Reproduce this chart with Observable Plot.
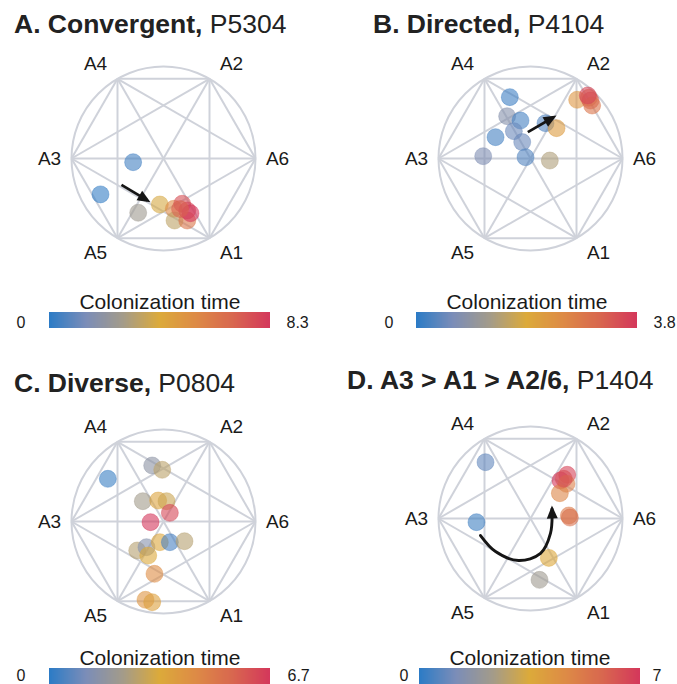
<!DOCTYPE html>
<html><head><meta charset="utf-8">
<script src="https://cdn.jsdelivr.net/npm/d3@7"></script>
<script src="https://cdn.jsdelivr.net/npm/@observablehq/plot@0.6"></script>
<style>
body{margin:0;background:#fff;overflow:hidden}
#root{position:relative;width:677px;height:684px;overflow:hidden;font-family:"Liberation Sans",Arial,Helvetica,sans-serif;color:#222}
.title{position:absolute;font-size:26.5px;line-height:26px;white-space:nowrap;color:#222}
.title b{font-weight:700}
.abs{position:absolute}
</style></head><body><div id="root"></div>
<script>
// ---- data ----
const vertexLabels = ["A6","A2","A4","A3","A5","A1"];
const vertexAngles = [0,60,120,180,240,300];
const titlesBold = ["A. Convergent,", "B. Directed,", "C. Diverse,", "D. A3 > A1 > A2/6,"];
const titlesPlain = ["P5304","P4104","P0804","P1404"];
const colorMax = [8.3, 3.8, 6.7, 7];
const colorLabel = "Colonization time";
const colorStops = ["#2b7bc6", "#7b8db8", "#a39b8a", "#dcaa3a", "#dd8a46", "#d8664f", "#d4375b"];

const ptsA_x = [-0.33, -0.685, -0.275, -0.04, 0.112, 0.12, 0.258, 0.203, 0.258, 0.293, 0.18];
const ptsA_y = [-0.04, -0.39, -0.59, -0.5, -0.547, -0.674, -0.674, -0.492, -0.565, -0.595, -0.55];
const ptsA_t = [0.4, 0.15, 2.6, 4.0, 5.5, 3.4, 6.3, 7.6, 7.9, 8.3, 7.0];

const ptsB_x = [-0.225, -0.254, -0.109, -0.181, -0.38, -0.09, -0.514, -0.054, 0.163, 0.283, 0.21, 0.507, 0.634, 0.652, 0.67, 0.623];
const ptsB_y = [0.667, 0.46, 0.413, 0.297, 0.232, 0.178, 0.025, 0.014, 0.384, 0.33, -0.022, 0.638, 0.66, 0.63, 0.576, 0.685];
const ptsB_t = [0.15, 0.8, 0.2, 0.5, 0.2, 0.5, 0.7, 0.3, 0.3, 2.2, 1.4, 2.3, 3.0, 3.3, 2.9, 3.6];

const ptsC_x = [-0.605, -0.123, -0.014, -0.225, -0.058, 0.033, 0.069, -0.141, -0.286, -0.185, -0.166, -0.04, 0.069, 0.228, -0.098, -0.196, -0.123];
const ptsC_y = [0.464, 0.609, 0.562, 0.221, 0.228, 0.221, 0.094, -0.007, -0.315, -0.279, -0.37, -0.225, -0.225, -0.214, -0.569, -0.851, -0.877];
const ptsC_t = [0.2, 1.6, 2.7, 2.2, 3.6, 3.0, 6.3, 6.7, 2.6, 1.4, 3.4, 3.5, 0.4, 2.6, 4.4, 4.1, 3.7];

const ptsD_x = [-0.489, -0.587, 0.399, 0.326, 0.391, 0.319, 0.362, 0.417, 0.428, 0.199, 0.098];
const ptsD_y = [0.612, -0.04, 0.475, 0.413, 0.377, 0.275, 0.431, 0.033, 0.01, -0.428, -0.667];
const ptsD_t = [0.8, 0.3, 6.7, 7.0, 5.0, 4.8, 6.4, 5.2, 5.5, 3.6, 2.2];

// annotation arrows (normalized circle coordinates)
const arrowA_x = [-0.457, -0.174], arrowA_y = [-0.286, -0.455];
const arrowB_x = [-0.029, 0.25],  arrowB_y = [0.286, 0.448];
const curveD_x = [-0.543, -0.380, -0.130, 0.109, 0.217, 0.234];
const curveD_y = [-0.185, -0.359, -0.457, -0.380, -0.163, 0.103];

const PX = [ptsA_x, ptsB_x, ptsC_x, ptsD_x];
const PY = [ptsA_y, ptsB_y, ptsC_y, ptsD_y];
const PT = [ptsA_t, ptsB_t, ptsC_t, ptsD_t];

// ---- layout ----
const R = 92;
const layout = [
  {cx:163, cy:158, left:0,   tx:14,  ty:11,  barL:49,  barR:270, barTop:312, gap0:24, gapMax:16, tdy:2},
  {cx:530, cy:158, left:339, tx:373, ty:11,  barL:416, barR:637, barTop:312, gap0:23, gapMax:16, tdy:2},
  {cx:163, cy:521, left:0,   tx:14,  ty:370, barL:49,  barR:270, barTop:668, gap0:24, gapMax:17, tdy:-1},
  {cx:530, cy:518, left:339, tx:347, ty:367, barL:419, barR:640, barTop:668, gap0:11, gapMax:12, tdy:-1},
];
const FONT = '"Liberation Sans", Arial, Helvetica, sans-serif';
const gridColor = "#cfd2da";
const ramp = d3.piecewise(d3.interpolateRgb, colorStops);
const root = document.getElementById("root");

function headMarker(color, context) {
  const doc = (context && context.document) || document;
  const ns = "http://www.w3.org/2000/svg";
  const m = doc.createElementNS(ns, "marker");
  m.setAttribute("viewBox", "-10 -6 14 12");
  m.setAttribute("markerWidth", 14);
  m.setAttribute("markerHeight", 12);
  m.setAttribute("refX", 0);
  m.setAttribute("refY", 0);
  m.setAttribute("orient", "auto");
  m.setAttribute("markerUnits", "userSpaceOnUse");
  const p = doc.createElementNS(ns, "path");
  p.setAttribute("d", "M-9.5,-5.5L3.5,0L-9.5,5.5Z");
  p.setAttribute("fill", color);
  p.setAttribute("stroke", "none");
  m.appendChild(p);
  return m;
}

const verts = vertexLabels.map((name, k) => {
  const a = vertexAngles[k] * Math.PI / 180;
  const c = Math.round(Math.cos(a) * 1e6) / 1e6, s = Math.round(Math.sin(a) * 1e6) / 1e6;
  return {name, x: c, y: s, lx: c + Math.sign(c) * 22 / R, ly: s + Math.sign(s) * 14.5 / R};
});
const edges = [];
for (let a = 0; a < verts.length; a++) for (let b = a + 1; b < verts.length; b++)
  edges.push({x1: verts[a].x, y1: verts[a].y, x2: verts[b].x, y2: verts[b].y});

function arrowMarks(i, marker) {
  const st = {stroke: "#151515", strokeWidth: 2.7, markerEnd: marker};
  if (i === 0) return [Plot.link([0], {x1: () => arrowA_x[0], y1: () => arrowA_y[0], x2: () => arrowA_x[1], y2: () => arrowA_y[1], ...st})];
  if (i === 1) return [Plot.link([0], {x1: () => arrowB_x[0], y1: () => arrowB_y[0], x2: () => arrowB_x[1], y2: () => arrowB_y[1], ...st})];
  if (i === 3) {
    const pts = curveD_x.map((x, j) => ({x, y: curveD_y[j]}));
    return [Plot.line(pts, {x: "x", y: "y", curve: "catmull-rom", ...st, strokeWidth: 2.9})];
  }
  return [];
}

function mainPlot(i, marker) {
  const W = 338, H = 300, hx = 169, hy = 150;
  const pts = PX[i].map((x, j) => ({x, y: PY[i][j], t: PT[i][j]}));
  return Plot.plot({
    width: W, height: H, margin: 0,
    style: {background: "transparent", overflow: "visible", fontFamily: FONT},
    x: {domain: [-1, 1], range: [hx - R, hx + R], axis: null},
    y: {domain: [-1, 1], range: [hy + R, hy - R], axis: null},
    color: {type: "linear", domain: [0, colorMax[i]], interpolate: ramp},
    marks: [
      Plot.dot([{x: 0, y: 0}], {x: "x", y: "y", r: R, fill: "none", stroke: gridColor, strokeWidth: 2}),
      Plot.link(edges, {x1: "x1", y1: "y1", x2: "x2", y2: "y2", stroke: gridColor, strokeWidth: 2}),
      Plot.dot(pts, {x: "x", y: "y", r: 8.5, fill: "t", fillOpacity: 0.6, stroke: "t", strokeOpacity: 0.4, strokeWidth: 1}),
      ...arrowMarks(i, marker),
      Plot.text(verts, {x: "lx", y: "ly", text: "name", fontSize: 19, fill: "#1a1a1a", fontFamily: FONT})
    ]
  });
}

function colorbar(i) {
  const L = layout[i], max = colorMax[i], N = L.barR - L.barL;
  return Plot.plot({
    width: 338, height: 50, margin: 0,
    style: {background: "transparent", overflow: "visible", fontFamily: FONT},
    x: {domain: [0, max], range: [L.barL - L.left, L.barR - L.left], axis: null},
    y: {domain: [0, 1], range: [46, 30], axis: null},
    color: {type: "linear", domain: [0, max], interpolate: ramp},
    marks: [
      Plot.rect(d3.range(N), {x1: k => k / N * max, x2: k => Math.min(N, k + 1) / N * max, y1: 0, y2: 1, fill: k => (k + 0.5) / N * max, shapeRendering: "crispEdges"}),
      Plot.text([0], {x: 0, y: 0.5, text: () => "0", textAnchor: "end", dx: -L.gap0, dy: L.tdy, fontSize: 16, fill: "#1a1a1a"}),
      Plot.text([max], {x: max, y: 0.5, text: d => String(d), textAnchor: "start", dx: L.gapMax, dy: L.tdy, fontSize: 16, fill: "#1a1a1a"}),
      Plot.text([colorLabel], {x: max / 2, y: 1, text: d => d, lineAnchor: "bottom", dy: -4, fontSize: 21, fill: "#1a1a1a"})
    ]
  });
}

for (let i = 0; i < 4; i++) {
  const L = layout[i];
  let svg;
  try { svg = mainPlot(i, headMarker); } catch (e) { svg = mainPlot(i, "arrow"); }
  svg.classList.add("abs");
  svg.style.left = (L.cx - 169) + "px";
  svg.style.top = (L.cy - 150) + "px";
  root.appendChild(svg);
  const cb = colorbar(i);
  cb.classList.add("abs");
  cb.style.left = L.left + "px";
  cb.style.top = (L.barTop - 30) + "px";
  root.appendChild(cb);
}
for (let i = 0; i < 4; i++) {
  const L = layout[i];
  const t = document.createElement("div");
  t.className = "title";
  t.style.left = L.tx + "px";
  t.style.top = L.ty + "px";
  const b = document.createElement("b");
  b.textContent = titlesBold[i];
  t.appendChild(b);
  t.appendChild(document.createTextNode(" " + titlesPlain[i]));
  root.appendChild(t);
}
</script></body></html>
